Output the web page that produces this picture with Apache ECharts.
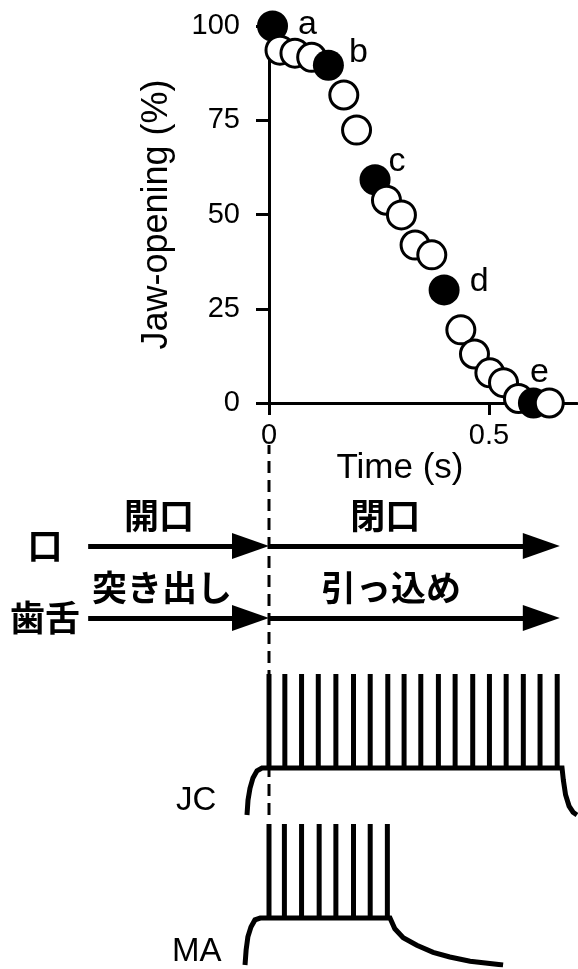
<!DOCTYPE html>
<html><head><meta charset="utf-8">
<script src="https://cdn.jsdelivr.net/npm/echarts@6/dist/echarts.min.js"></script>
<style>html,body{margin:0;padding:0;background:#fff}#c{width:578px;height:969px}</style>
</head><body><div id="c"></div>
<script>
// ---- Jaw-opening vs time ----
const times = [0.008,0.025,0.059,0.097,0.135,0.170,0.199,0.241,0.267,0.301,0.332,0.370,0.398,0.436,0.467,0.502,0.533,0.567,0.601,0.637];
const jawOpening = [100,93.6,92.8,91.7,89.6,81.7,72.4,59.2,53.8,49.9,41.9,39.3,30.0,19.4,13.0,8.0,5.4,1.2,0,0];
const pointLabels = ['a','','','','b','','','c','','','','','d','','','','','','e',''];
const yTickValues = [0,25,50,75,100];
const xTickValues = [0,0.5];

// ---- phase arrows ----
const rowNames = ['口','歯舌'];
const phaseRow = [0,0,1,1];
const phaseStart = [-0.411,0,-0.411,0];
const phaseEnd = [0,0.661,0,0.661];
const phaseNames = ['開口','閉口','突き出し','引っ込め'];
const phaseLabelTime = [-0.25,0.264,-0.243,0.277];
const boundaryTime = 0;

// ---- EMG traces (relative level: baseline 0, plateau 1, spike 3) ----
const jcRiseTime = [-0.050,-0.0477,-0.0432,-0.0364,-0.0273,-0.0159];
const jcRiseLevel = [0,0.32,0.57,0.79,0.94,1];
const jcSpikes = [0.0,0.036,0.074,0.112,0.152,0.192,0.230,0.270,0.307,0.345,0.385,0.423,0.463,0.501,0.539,0.578,0.616,0.655];
const jcFallTime = [0.666,0.669,0.674,0.682,0.691,0.700];
const jcFallLevel = [1,0.74,0.43,0.19,0.06,0];

const maRiseTime = [-0.0545,-0.052,-0.048,-0.041,-0.032,-0.020];
const maRiseLevel = [0,0.32,0.6,0.81,0.96,1];
const maSpikes = [0.0,0.035,0.074,0.114,0.152,0.192,0.230,0.269];
const maFallTime = [0.275,0.286,0.305,0.336,0.373,0.411,0.457,0.532];
const maFallLevel = [1,0.77,0.58,0.42,0.27,0.17,0.08,0];
const spikeLevel = 3;

const LATIN = "'Liberation Sans', Arial, sans-serif";
const CJK = "'Noto Sans CJK JP', sans-serif";

function buildTrace(rt, rl, spikes, ft, fl) {
  const d = [];
  rt.forEach((t,i)=>d.push([t, rl[i]]));
  spikes.forEach(t=>{ d.push([t,1]); d.push([t,spikeLevel]); d.push([t,1]); });
  ft.forEach((t,i)=>d.push([t, fl[i]]));
  return d;
}

const labelOffsets = {a:[35,-1], b:[30,-13], c:[22,-18], d:[35,-8], e:[6,-30]};
const filledSet = new Set(['a','b','c','d','e']);
const jawData = times.map((t,i)=>{
  const lab = pointLabels[i];
  const filled = filledSet.has(lab);
  return {
    value:[t, jawOpening[i]],
    symbolSize: filled ? 31 : 28,
    itemStyle: filled ? {color:'#000', borderWidth:0, opacity:1} : {color:'#fff', borderColor:'#000', borderWidth:3, opacity:1},
    label: lab ? {show:true, formatter:lab, position:'inside', offset:labelOffsets[lab], color:'#000', fontSize:34, fontFamily:LATIN} : {show:false}
  };
});

const headLen = 37; // arrowhead length in px
const pxPerSec = 440;
const arrowData = phaseStart.map((s,i)=>({coords:[[s, phaseRow[i]],[phaseEnd[i]-headLen/2/pxPerSec, phaseRow[i]]]}));
const phaseLabelData = phaseNames.map((n,i)=>({value:[phaseLabelTime[i], phaseRow[i]], name:n}));

const hiddenX = (gi)=>({gridIndex:gi, type:'value', min:-0.6, max:0.7, show:false});
const chart = echarts.init(document.getElementById('c'), null, {renderer:'canvas'});
chart.setOption({
  animation:false,
  backgroundColor:'#fff',
  title:[
    {text:'JC', left:176, top:784, padding:0, textStyle:{fontSize:33, fontWeight:'normal', fontFamily:LATIN, color:'#000'}},
    {text:'MA', left:172, top:935, padding:0, textStyle:{fontSize:33, fontWeight:'normal', fontFamily:LATIN, color:'#000'}}
  ],
  grid:[
    {left:269, top:26, width:308, height:377},
    {left:5, top:510, width:572, height:144},
    {left:5, top:660, width:572, height:155},
    {left:5, top:810, width:572, height:155},
    {left:5, top:445, width:572, height:370}
  ],
  xAxis:[
    {gridIndex:0, type:'value', min:0, max:0.7,
     name:'Time (s)', nameLocation:'middle', nameGap:46,
     nameTextStyle:{fontSize:35, fontFamily:LATIN, color:'#000', padding:[0,46,0,0]},
     axisLine:{lineStyle:{color:'#000', width:3}},
     axisTick:{show:true, length:12, customValues:xTickValues, lineStyle:{color:'#000', width:3}},
     axisLabel:{customValues:xTickValues, margin:18, fontSize:29, fontFamily:LATIN, color:'#000', formatter:v=>String(v)},
     splitLine:{show:false}},
    hiddenX(1), hiddenX(2), hiddenX(3), hiddenX(4)
  ],
  yAxis:[
    {gridIndex:0, type:'value', min:0, max:100, interval:25,
     name:'Jaw-opening (%)', nameLocation:'middle', nameGap:94,
     nameTextStyle:{fontSize:36, fontFamily:LATIN, color:'#000'},
     axisLine:{show:true, lineStyle:{color:'#000', width:3}},
     axisTick:{show:true, length:13, lineStyle:{color:'#000', width:3}},
     axisLabel:{margin:29, fontSize:29, fontFamily:LATIN, color:'#000'},
     splitLine:{show:false}},
    {gridIndex:1, type:'category', data:rowNames, inverse:true,
     axisLine:{show:false}, axisTick:{show:false}, splitLine:{show:false},
     axisLabel:{inside:true, align:'center', margin:40, fontSize:35, fontWeight:'bold', fontFamily:CJK, color:'#000'}},
    {gridIndex:2, type:'value', min:0, max:3.3, show:false},
    {gridIndex:3, type:'value', min:0, max:3.3, show:false},
    {gridIndex:4, type:'value', min:0, max:1, show:false}
  ],
  series:[
    {type:'line', xAxisIndex:4, yAxisIndex:4, data:[[boundaryTime,0],[boundaryTime,1]],
     showSymbol:false, symbol:'none', lineStyle:{color:'#000', width:3, type:[12,7]}, z:1},
    {type:'scatter', xAxisIndex:0, yAxisIndex:0, data:jawData, z:3},
    {type:'lines', coordinateSystem:'cartesian2d', xAxisIndex:1, yAxisIndex:1,
     symbol:['none','triangle'], symbolSize:[0,[26,headLen]],
     lineStyle:{color:'#000', width:5, opacity:1, curveness:0},
     data:arrowData, z:2},
    {type:'scatter', xAxisIndex:1, yAxisIndex:1, data:phaseLabelData, symbolSize:1,
     itemStyle:{color:'rgba(0,0,0,0)', opacity:1},
     label:{show:true, position:'top', distance:12, formatter:p=>p.name, fontSize:35, fontWeight:'bold', fontFamily:CJK, color:'#000', opacity:1}},
    {type:'line', xAxisIndex:2, yAxisIndex:2, data:buildTrace(jcRiseTime,jcRiseLevel,jcSpikes,jcFallTime,jcFallLevel),
     showSymbol:false, symbol:'none', lineStyle:{color:'#000', width:5, join:'miter', cap:'butt'}},
    {type:'line', xAxisIndex:3, yAxisIndex:3, data:buildTrace(maRiseTime,maRiseLevel,maSpikes,maFallTime,maFallLevel),
     showSymbol:false, symbol:'none', lineStyle:{color:'#000', width:5, join:'miter', cap:'butt'}}
  ]
});
</script></body></html>
